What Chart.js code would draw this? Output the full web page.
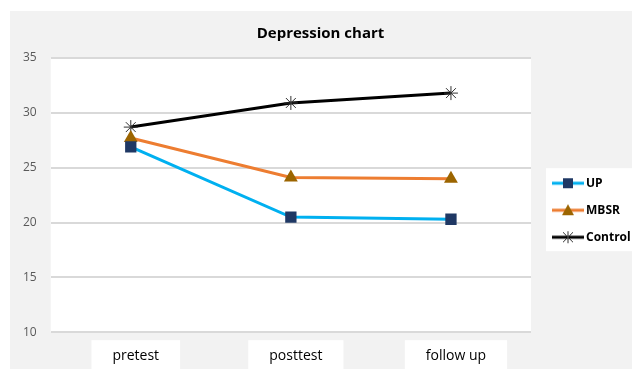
<!DOCTYPE html>
<html>
<head>
<meta charset="utf-8">
<script src="https://cdn.jsdelivr.net/npm/chart.js@4"></script>
<style>
  html, body { margin: 0; padding: 0; background: #ffffff; }
  #wrap { width: 632px; height: 369px; }
</style>
</head>
<body>
<div id="wrap"><canvas id="lineChart"></canvas></div>
<script>
var labels = ['pretest', 'posttest', 'follow up'];
var upValues = [26.9, 20.5, 20.3];
var mbsrValues = [27.7, 24.1, 24.0];
var controlValues = [28.7, 30.9, 31.8];
var yTicks = [10, 15, 20, 25, 30, 35];

// legend sample: short line with the marker in the middle.
// the image is centred on the legend box, so the line sits right of centre
function legendIcon(lineColor, style, markerColor) {
  var c = document.createElement('canvas');
  c.width = 54; c.height = 14;
  var g = c.getContext('2d');
  var mid = 32;
  g.strokeStyle = lineColor; g.lineWidth = 3;
  g.beginPath(); g.moveTo(16, 7); g.lineTo(48, 7); g.stroke();
  g.fillStyle = markerColor; g.strokeStyle = markerColor;
  if (style === 'rect') {
    g.fillRect(mid - 5, 2, 10, 10);
  } else if (style === 'triangle') {
    g.beginPath(); g.moveTo(mid, 1); g.lineTo(mid + 6, 12); g.lineTo(mid - 6, 12); g.closePath(); g.fill();
  } else {
    g.lineWidth = 1;
    g.beginPath();
    g.moveTo(mid, 1); g.lineTo(mid, 13);
    g.moveTo(mid - 5, 2); g.lineTo(mid + 5, 12);
    g.moveTo(mid + 5, 2); g.lineTo(mid - 5, 12);
    g.stroke();
  }
  return c;
}

var backgrounds = {
  id: 'backgrounds',
  beforeDraw: function(chart) {
    var ctx = chart.ctx, a = chart.chartArea;
    ctx.save();
    ctx.fillStyle = '#ffffff';
    ctx.fillRect(0, 0, chart.width, chart.height);
    ctx.fillStyle = '#f2f2f2';
    ctx.fillRect(10, 11, chart.width - 10, chart.height - 11);
    ctx.fillStyle = '#ffffff';
    ctx.fillRect(a.left, a.top, a.right - a.left, a.bottom - a.top);
    var boxes = chart.legend.legendHitBoxes;
    if (boxes && boxes.length) {
      var first = boxes[0], last = boxes[boxes.length - 1];
      ctx.fillRect(first.left, first.top - 9, chart.width, last.top + last.height - first.top + 17);
    }
    ctx.restore();
  }
};

new Chart(document.getElementById('lineChart'), {
  type: 'line',
  data: {
    labels: labels,
    datasets: [{
      label: 'UP',
      data: upValues,
      borderColor: '#00b0f0',
      backgroundColor: '#1f3864',
      borderWidth: 3,
      pointStyle: 'rect',
      pointRadius: 8,
      pointBorderWidth: 0,
      tension: 0
    }, {
      label: 'MBSR',
      data: mbsrValues,
      borderColor: '#ed7d31',
      backgroundColor: '#9c6500',
      borderWidth: 3,
      pointStyle: 'triangle',
      pointRadius: 8,
      pointBorderWidth: 0,
      tension: 0
    }, {
      label: 'Control',
      data: controlValues,
      borderColor: '#000000',
      backgroundColor: '#000000',
      pointBorderColor: '#333333',
      borderWidth: 3,
      pointStyle: 'star',
      pointRadius: 7,
      pointBorderWidth: 1,
      tension: 0
    }]
  },
  options: {
    responsive: true,
    maintainAspectRatio: false,
    animation: false,
    layout: {
      padding: { left: 9, right: 0, top: 11, bottom: -10 }
    },
    plugins: {
      title: {
        display: true,
        text: 'Depression chart',
        color: '#000000',
        font: { family: 'Open Sans', size: 15, weight: 'bold' },
        padding: { top: 14, bottom: 15 }
      },
      legend: {
        position: 'right',
        maxWidth: 101,
        // empty title only pushes the entries down a little
        title: {
          display: true,
          text: ' ',
          font: { size: 12 },
          padding: { top: 8, bottom: 8 }
        },
        labels: {
          usePointStyle: true,
          pointStyleWidth: 34,
          padding: 15,
          color: '#000000',
          font: { family: 'Open Sans', size: 12, weight: 'bold' },
          generateLabels: function(chart) {
            var icons = [
              legendIcon('#00b0f0', 'rect', '#1f3864'),
              legendIcon('#ed7d31', 'triangle', '#9c6500'),
              legendIcon('#000000', 'star', '#333333')
            ];
            return chart.data.datasets.map(function(ds, i) {
              return {
                text: ds.label,
                pointStyle: icons[i],
                fillStyle: ds.borderColor,
                strokeStyle: ds.borderColor,
                lineWidth: 0,
                fontColor: '#000000',
                datasetIndex: i
              };
            });
          }
        }
      },
      tooltip: { enabled: false }
    },
    scales: {
      x: {
        offset: true,
        grid: { display: false, drawTicks: false },
        border: { display: false },
        ticks: {
          color: '#000000',
          font: { family: 'Open Sans', size: 14 },
          padding: 15,
          labelOffset: 5,
          showLabelBackdrop: true,
          backdropColor: '#ffffff',
          backdropPadding: { top: 7, bottom: 9, left: 21, right: 21 }
        }
      },
      y: {
        min: 10,
        max: 35,
        afterBuildTicks: function(axis) {
          axis.ticks = yTicks.map(function(v) { return { value: v }; });
        },
        grid: { color: '#d9d9d9', lineWidth: 2, drawTicks: false },
        border: { display: false },
        ticks: {
          color: '#595959',
          font: { family: 'Open Sans', size: 12 },
          padding: 14
        }
      }
    }
  },
  plugins: [backgrounds]
});
</script>
</body>
</html>
